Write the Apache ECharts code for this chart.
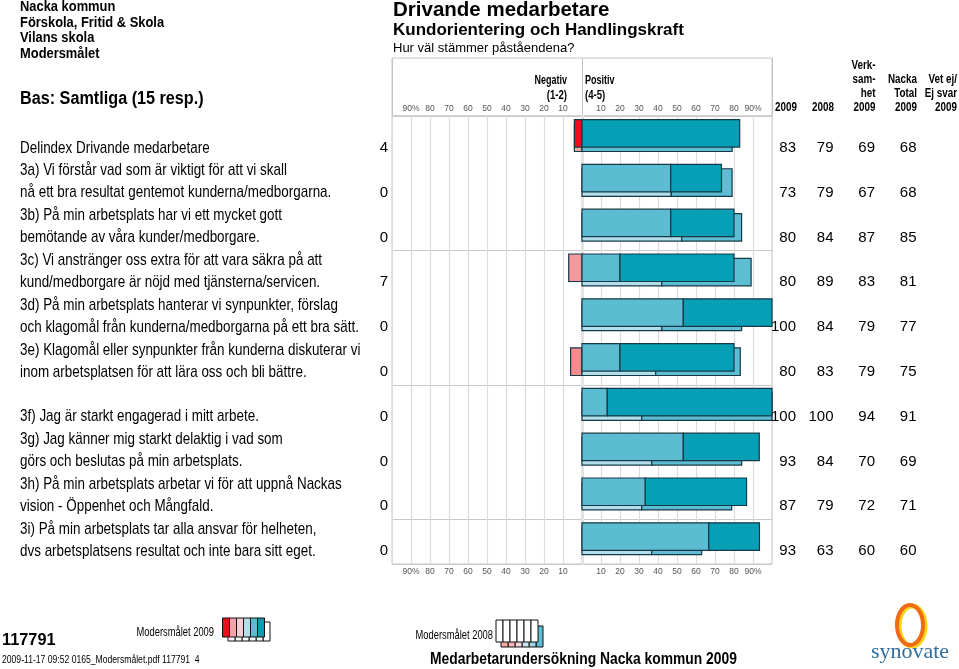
<!DOCTYPE html>
<html><head><meta charset="utf-8">
<script src="https://cdn.jsdelivr.net/npm/echarts@6/dist/echarts.min.js"></script>
<style>html,body{margin:0;padding:0;background:#fff}#c{width:959px;height:669px}</style>
</head><body><div id="c"></div>
<script>
// ---------- data ----------
const questions = [
  ["Delindex Drivande medarbetare"],
  ["3a) Vi förstår vad som är viktigt för att vi skall", "nå ett bra resultat gentemot kunderna/medborgarna."],
  ["3b) På min arbetsplats har vi ett mycket gott", "bemötande av våra kunder/medborgare."],
  ["3c) Vi anstränger oss extra för att vara säkra på att", "kund/medborgare är nöjd med tjänsterna/servicen."],
  ["3d) På min arbetsplats hanterar vi synpunkter, förslag", "och klagomål från kunderna/medborgarna på ett bra sätt."],
  ["3e) Klagomål eller synpunkter från kunderna diskuterar vi", "inom arbetsplatsen för att lära oss och bli bättre."],
  ["3f) Jag är starkt engagerad i mitt arbete."],
  ["3g) Jag känner mig starkt delaktig i vad som", "görs och beslutas på min arbetsplats."],
  ["3h) På min arbetsplats arbetar vi för att uppnå Nackas", "vision - Öppenhet och Mångfald."],
  ["3i) På min arbetsplats tar alla ansvar för helheten,", "dvs arbetsplatsens resultat och inte bara sitt eget."]
];
// 2009 (front bars), percent
const neg1_2009 = [4, 0, 0, 0, 0, 0, 0, 0, 0, 0];
const neg2_2009 = [0, 0, 0, 7, 0, 0, 0, 0, 0, 0];
const pos4_2009 = [0, 46.7, 46.7, 20, 53.3, 20, 13.3, 53.3, 33.3, 66.7];
const pos5_2009 = [83, 26.7, 33.3, 60, 46.7, 60, 86.7, 40, 53.3, 26.7];
// 2008 (back bars), percent
const neg1_2008 = [4, 0, 0, 0, 0, 0, 0, 0, 0, 0];
const neg2_2008 = [0, 0, 0, 0, 0, 6, 0, 0, 0, 0];
const pos4_2008 = [0, 47, 52.5, 42, 42, 38.8, 31.4, 36.7, 31.4, 36.7];
const pos5_2008 = [79, 32, 31.5, 47, 42, 44.5, 68.6, 47.3, 47.4, 26.3];
// table columns
const negCol2009 = [4, 0, 0, 7, 0, 0, 0, 0, 0, 0];
const col2009 = [83, 73, 80, 80, 100, 80, 100, 93, 87, 93];
const col2008 = [79, 79, 84, 89, 84, 83, 100, 84, 79, 63];
const colVerk = [69, 67, 87, 83, 79, 79, 94, 70, 72, 60];
const colNacka = [68, 68, 85, 81, 77, 75, 91, 69, 71, 60];
const colVetEj = ["", "", "", "", "", "", "", "", "", ""];
const tickValues = [10, 20, 30, 40, 50, 60, 70, 80, 90];
const colHeaders = [["2009"], ["2008"], ["Verk-", "sam-", "het", "2009"], ["Nacka", "Total", "2009"], ["Vet ej/", "Ej svar", "2009"]];

// ---------- style ----------
const SANS = "'Liberation Sans',Arial,Helvetica,sans-serif";
const C9 = { n1: '#e8111b', n2: '#f59a9c', p4: '#5bbcd2', p5: '#079fb6' };
const C8 = { n1: '#f5aaa2', n2: '#f58b8d', p4: '#b2dfea', p5: '#5dbdd3' };
const EDGE = '#173847';

const chart = echarts.init(document.getElementById('c'), null, { renderer: 'canvas' });
const rowData = questions.map((q, i) => [0, i + 0.5, i]);

function tickFmt(v) {
  const a = Math.abs(v);
  if (tickValues.indexOf(a) < 0) return '';
  return a === 90 ? '90%' : String(a);
}

function tEl(x, y, s, font, align, sx, fill) {
  return { type: 'text', x: x, y: y, scaleX: sx || 1,
    style: { text: s, font: font + ' ' + SANS, fill: fill || '#000', align: align || 'left', verticalAlign: 'middle' } };
}

function renderBars(params, api) {
  const i = api.value(2);
  const yv = api.value(1);
  const yc = api.coord([0, yv])[1];
  const u = api.size([0, 1])[1];
  const h = u * 0.614;
  const t9 = -0.42 * u, t8 = -0.322 * u;
  const kids = [];
  function seg(a, b, top, color) {
    if (Math.abs(b - a) < 0.01) return;
    const p0 = api.coord([a, yv])[0], p1 = api.coord([b, yv])[0];
    kids.push({ type: 'rect', shape: { x: Math.min(p0, p1), y: yc + top, width: Math.abs(p1 - p0), height: h },
      style: { fill: color, stroke: EDGE, lineWidth: 1.2 } });
  }
  // 2008 behind
  seg(-neg2_2008[i] - neg1_2008[i], -neg2_2008[i], t8, C8.n1);
  seg(-neg2_2008[i], 0, t8, C8.n2);
  seg(0, pos4_2008[i], t8, C8.p4);
  seg(pos4_2008[i], pos4_2008[i] + pos5_2008[i], t8, C8.p5);
  // 2009 front
  seg(-neg2_2009[i] - neg1_2009[i], -neg2_2009[i], t9, C9.n1);
  seg(-neg2_2009[i], 0, t9, C9.n2);
  seg(0, pos4_2009[i], t9, C9.p4);
  seg(pos4_2009[i], pos4_2009[i] + pos5_2009[i], t9, C9.p5);
  return { type: 'group', children: kids };
}

function renderTexts(params, api) {
  const i = api.value(2);
  const yv = api.value(1);
  const yc = api.coord([0, yv])[1];
  const xl = api.coord([-100, yv])[0];
  const xr = api.coord([100, yv])[0];
  const kids = [];
  const q = questions[i];
  const lastY = yc + 9.5;
  q.forEach((line, k) => {
    kids.push(tEl(20, lastY - (q.length - 1 - k) * 22, line, '17px', 'left', 0.79));
  });
  kids.push(tEl(xl - 4, lastY, String(negCol2009[i]), '15px', 'right'));
  const cols = [col2009, col2008, colVerk, colNacka, colVetEj];
  const offs = [24, 61.5, 103, 144.5, 185];
  cols.forEach((c, k) => kids.push(tEl(xr + offs[k], lastY, String(c[i]), '15px', 'right')));
  return { type: 'group', children: kids };
}

// header / footer graphics
const g = [];
function txt(x, y, s, font, align, sx, fill) { g.push(tEl(x, y, s, font, align, sx, fill)); }
['Nacka kommun', 'Förskola, Fritid & Skola', 'Vilans skola', 'Modersmålet'].forEach((s, k) => txt(20, 7 + k * 15.5, s, 'bold 15px', 'left', 0.86));
txt(20, 99, 'Bas: Samtliga (15 resp.)', 'bold 18px', 'left', 0.9);
txt(393, 10, 'Drivande medarbetare', 'bold 20.5px', 'left');
txt(393, 30, 'Kundorientering och Handlingskraft', 'bold 17px', 'left');
txt(393, 48, 'Hur väl stämmer påståendena?', '13px', 'left');
txt(567, 81, 'Negativ', 'bold 12px', 'right', 0.75);
txt(567, 96, '(1-2)', 'bold 12px', 'right', 0.8);
txt(585, 81, 'Positiv', 'bold 12px', 'left', 0.75);
txt(585, 96, '(4-5)', 'bold 12px', 'left', 0.8);
const hdrRight = [797, 834, 875.5, 917, 957];
colHeaders.forEach((lines, k) => {
  lines.forEach((s, j) => txt(hdrRight[k], 108 - (lines.length - 1 - j) * 14, s, 'bold 12px', 'right', 0.82));
});
// footer
txt(2, 641, '117791', 'bold 16px', 'left', 1.02);
txt(2, 660, '2009-11-17 09:52 0165_Modersmålet.pdf 117791  4', '10px', 'left', 0.86);
txt(214, 633, 'Modersmålet 2009', '12px', 'right', 0.78);
txt(493, 636, 'Modersmålet 2008', '12px', 'right', 0.78);
txt(430, 660, 'Medarbetarundersökning Nacka kommun 2009', 'bold 16px', 'left', 0.865);
// legend swatches
const leg9 = ['#e8111b', '#f4a3a8', '#f4cdd4', '#b3dde8', '#5bbcd1', '#0a9db5'];
const leg8 = ['#f5aaa2', '#f4b6bb', '#f4d6dc', '#c8e6ee', '#9fd3e2', '#5dbdd3'];
for (let k = 5; k >= 0; k--) {
  g.push({ type: 'rect', shape: { x: 228 + k * 7, y: 622, width: 7, height: 19 }, style: { fill: '#fff', stroke: '#111', lineWidth: 1 } });
}
leg9.forEach((c, k) => g.push({ type: 'rect', shape: { x: 222.5 + k * 7, y: 618, width: 7, height: 19 }, style: { fill: c, stroke: '#111', lineWidth: 1 } }));
for (let k = 5; k >= 0; k--) {
  g.push({ type: 'rect', shape: { x: 501 + k * 7, y: 626, width: 7, height: 21 }, style: { fill: leg8[k], stroke: '#111', lineWidth: 1 } });
}
for (let k = 0; k < 6; k++) {
  g.push({ type: 'rect', shape: { x: 496 + k * 7, y: 620, width: 7, height: 22 }, style: { fill: '#fff', stroke: '#111', lineWidth: 1 } });
}
// synovate logo
g.push({ type: 'ellipse', shape: { cx: 912, cy: 626, rx: 13, ry: 20 }, style: { fill: 'none', stroke: '#f7d21a', lineWidth: 5 } });
g.push({ type: 'ellipse', shape: { cx: 910, cy: 625, rx: 13, ry: 20 }, style: { fill: 'none', stroke: '#f06b12', lineWidth: 4 } });
g.push({ type: 'text', x: 910, y: 652, style: { text: 'synovate', font: '22px "Liberation Serif","DejaVu Serif",serif', fill: '#2f6d9c', align: 'center', verticalAlign: 'middle' } });

const option = {
  animation: false,
  backgroundColor: '#fff',
  graphic: g,
  grid: [
    { left: 392, top: 116, width: 380, height: 448, show: true, borderColor: '#c4c4c4', borderWidth: 1, containLabel: false },
    { left: 392, top: 58, width: 380, height: 58, show: true, borderColor: '#c4c4c4', borderWidth: 1, containLabel: false }
  ],
  xAxis: [
    { type: 'value', gridIndex: 0, position: 'bottom', min: -100, max: 100, interval: 10,
      axisLine: { show: false }, axisTick: { show: false },
      axisLabel: { formatter: tickFmt, fontSize: 8.5, color: '#555', margin: 3, fontFamily: SANS },
      splitLine: { show: true, lineStyle: { color: '#dcdcdc', width: 1.2 } } },
    { type: 'value', gridIndex: 0, position: 'top', min: -100, max: 100, interval: 10,
      axisLine: { show: false }, axisTick: { show: false },
      axisLabel: { formatter: tickFmt, fontSize: 8.5, color: '#555', margin: 3, fontFamily: SANS },
      splitLine: { show: false } },
    { type: 'value', gridIndex: 1, min: -100, max: 100, interval: 100,
      axisLine: { show: false }, axisTick: { show: false }, axisLabel: { show: false },
      splitLine: { show: true, lineStyle: { color: '#c4c4c4' } } }
  ],
  yAxis: [
    { type: 'value', gridIndex: 0, inverse: true, min: 0, max: 10, interval: 3,
      axisLine: { show: true, lineStyle: { color: '#e3e3e3', width: 3 } }, axisTick: { show: false }, axisLabel: { show: false },
      splitLine: { show: true, lineStyle: { color: '#c8c8c8' } } },
    { type: 'value', gridIndex: 1, min: 0, max: 1, show: false, splitLine: { show: false } }
  ],
  series: [
    { type: 'custom', name: 'bars', xAxisIndex: 0, yAxisIndex: 0, data: rowData, renderItem: renderBars, encode: { x: 0, y: 1 }, clip: false, z: 3 },
    { type: 'custom', name: 'texts', xAxisIndex: 0, yAxisIndex: 0, data: rowData, renderItem: renderTexts, encode: { x: 0, y: 1 }, clip: false, z: 4 }
  ]
};
chart.setOption(option);
</script>
</body></html>
